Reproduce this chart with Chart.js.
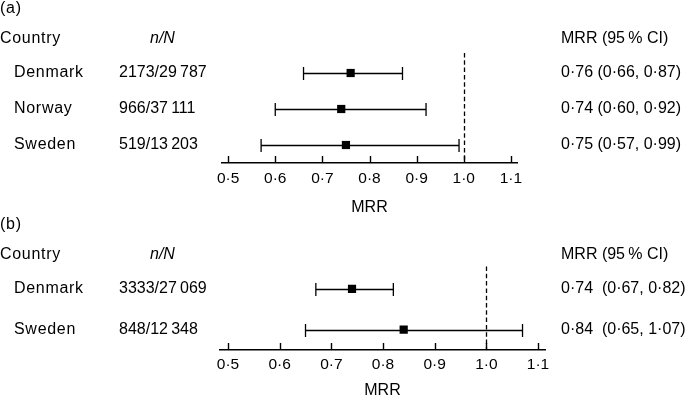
<!DOCTYPE html>
<html lang="en">
<head>
  <meta charset="UTF-8">
  <title>MRR forest plot</title>
  <style>
    body { margin: 0; background: #fff; }
    #wrap { position: relative; width: 687px; height: 397px; overflow: hidden; }
    .panel { position: absolute; left: 0; width: 687px; }
    #panelA { top: 0; height: 214px; }
    #panelB { top: 214px; height: 183px; }
  </style>
</head>
<body>
  <div id="wrap">
    <div class="panel" id="panelA"><canvas id="chartA"></canvas></div>
    <div class="panel" id="panelB"><canvas id="chartB"></canvas></div>
  </div>

  <script src="https://cdn.jsdelivr.net/npm/chart.js"></script>
  <script>
    // panel (a)
    const countriesA = ['Denmark', 'Norway', 'Sweden'];
    const casesA = ['2173/29\u2009787', '966/37\u2009111', '519/13\u2009203'];
    const mrrA = [0.76, 0.74, 0.75];
    const lowA = [0.66, 0.60, 0.57];
    const highA = [0.87, 0.92, 0.99];

    // panel (b)
    const countriesB = ['Denmark', 'Sweden'];
    const casesB = ['3333/27\u2009069', '848/12\u2009348'];
    const mrrB = [0.74, 0.84];
    const lowB = [0.67, 0.65];
    const highB = [0.82, 1.07];

    const tickVals = [0.5, 0.6, 0.7, 0.8, 0.9, 1.0, 1.1];

    const FONT = "'Liberation Sans', Arial, sans-serif";
    const dot = (v, d) => v.toFixed(d).replace('.', '\u00b7');

    // error bars, reference line, upward tick marks and the text table
    const forestPlugin = {
      id: 'forest',
      beforeDatasetsDraw(chart, args, o) {
        const { ctx, chartArea, scales: { x, y } } = chart;
        ctx.save();
        ctx.strokeStyle = '#000';
        ctx.lineWidth = 1.3;

        // dashed line at MRR = 1
        const xr = Math.round(x.getPixelForValue(1.0)) + 0.5;
        ctx.setLineDash([4.5, 2.8]);
        ctx.beginPath();
        ctx.moveTo(xr, chartArea.top - 2);
        ctx.lineTo(xr, chartArea.bottom);
        ctx.stroke();
        ctx.setLineDash([]);

        // confidence intervals
        o.low.forEach((lo, i) => {
          const yy = Math.round(y.getPixelForValue(o.rows[i])) + 0.5;
          const x1 = x.getPixelForValue(lo);
          const x2 = x.getPixelForValue(o.high[i]);
          ctx.beginPath();
          ctx.moveTo(x1, yy); ctx.lineTo(x2, yy);
          ctx.moveTo(x1, yy - 6.5); ctx.lineTo(x1, yy + 6.5);
          ctx.moveTo(x2, yy - 6.5); ctx.lineTo(x2, yy + 6.5);
          ctx.stroke();
        });

        // tick marks pointing up from the axis
        ctx.lineWidth = 1.4;
        x.ticks.forEach(t => {
          const px = Math.round(x.getPixelForValue(t.value)) + 0.5;
          ctx.beginPath();
          ctx.moveTo(px, x.top);
          ctx.lineTo(px, x.top - 7);
          ctx.stroke();
        });
        ctx.restore();
      },
      afterDraw(chart, args, o) {
        const { ctx, scales: { y } } = chart;
        ctx.save();
        ctx.fillStyle = '#000';
        ctx.textBaseline = 'middle';
        ctx.textAlign = 'left';
        ctx.font = '16px ' + FONT;

        const first = y.getPixelForValue(o.rows[0]);
        const head = first - 34;

        // words get a little tracking, numbers none
        ctx.letterSpacing = '0.7px';
        ctx.fillText(o.tag, 0, first - 64);
        ctx.fillText('Country', 0, head);
        o.countries.forEach((c, i) => ctx.fillText(c, 14, y.getPixelForValue(o.rows[i])));

        ctx.letterSpacing = '0px';
        ctx.fillText('MRR (95\u2009% CI)', 561, head);
        ctx.font = 'italic 16px ' + FONT;
        ctx.fillText('n/N', 150, head);
        ctx.font = '16px ' + FONT;

        o.countries.forEach((c, i) => {
          const yy = y.getPixelForValue(o.rows[i]);
          ctx.fillText(o.cases[i], 119, yy);
          const ci = dot(o.mrr[i], 2) + o.gap + '(' + dot(o.low[i], 2) + ', ' + dot(o.high[i], 2) + ')';
          ctx.fillText(ci, 561, yy);
        });
        ctx.restore();
      }
    };

    const drawForest = (target, p) => {
      const n = p.countries.length;
      const rows = p.countries.map((c, i) => n - i);

      new Chart(document.getElementById(target), {
        type: 'scatter',
        data: {
          datasets: [{
            data: p.mrr.map((v, i) => ({ x: v, y: rows[i] })),
            pointStyle: 'rect',
            pointRadius: 5.8,
            backgroundColor: '#000',
            borderColor: '#000',
            borderWidth: 0
          }]
        },
        options: {
          responsive: true,
          maintainAspectRatio: false,
          animation: false,
          events: [],
          layout: { padding: { left: p.left, right: p.right, top: p.top, bottom: 0 } },
          plugins: {
            legend: { display: false },
            tooltip: { enabled: false },
            forest: {
              tag: p.tag, rows: rows, countries: p.countries, cases: p.cases,
              mrr: p.mrr, low: p.low, high: p.high, gap: p.gap
            }
          },
          scales: {
            x: {
              type: 'linear',
              min: p.min,
              max: p.max,
              afterBuildTicks: s => { s.ticks = tickVals.map(v => ({ value: v })); },
              afterFit: s => { s.height = p.axisH; },
              grid: { display: false, drawTicks: false },
              border: { display: true, color: '#000', width: 1.5 },
              ticks: {
                padding: p.tickPad,
                color: '#000',
                autoSkip: false,
                maxRotation: 0,
                font: { family: FONT, size: 15.5 },
                callback: v => dot(v, 1)
              },
              title: {
                display: true,
                text: 'MRR',
                color: '#000',
                padding: 0,
                font: { family: FONT, size: 16, lineHeight: 0.8 }
              }
            },
            y: { display: false, min: 0.5, max: n + 0.5 }
          }
        },
        plugins: [forestPlugin]
      });
    };

    drawForest('chartA', {
      tag: '(a)', countries: countriesA, cases: casesA, mrr: mrrA, low: lowA, high: highA,
      gap: ' ', min: 0.487, max: 1.113, left: 222, right: 170, top: 55, axisH: 51, tickPad: 6.5
    });
    drawForest('chartB', {
      tag: '(b)', countries: countriesB, cases: casesB, mrr: mrrB, low: lowB, high: highB,
      gap: '  ', min: 0.4845, max: 1.1135, left: 220, right: 142, top: 54.5, axisH: 47, tickPad: 5
    });
  </script>
</body>
</html>
